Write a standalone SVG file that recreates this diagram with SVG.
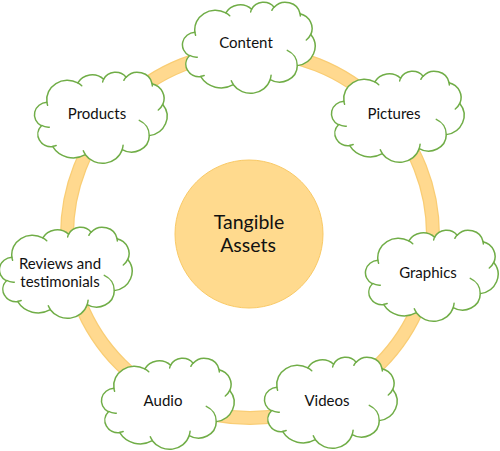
<svg xmlns="http://www.w3.org/2000/svg" xmlns:xlink="http://www.w3.org/1999/xlink" width="500" height="451" viewBox="0 0 500 451">
<style>
.cloud{fill:#fff;stroke:#70AD47;stroke-width:1.5;stroke-linejoin:round}
.detail{fill:none;stroke:#70AD47;stroke-width:1.5;stroke-linecap:round}
.lbl{font-family:Lato,"Open Sans","Liberation Sans",sans-serif;font-size:15px;fill:#111;text-anchor:middle}
.big{font-family:Lato,"Open Sans","Liberation Sans",sans-serif;font-size:19.5px;fill:#111;text-anchor:middle}
</style>
<defs>
<g id="cloud">
<path class="cloud" d="M11.92,30.27 A20.63,19.36 0 0 1 42.80,10.96 A16.30,15.31 0 0 1 68.62,7.23 A13.34,12.52 0 0 1 91.16,5.22 A14.84,13.89 0 0 1 117.09,11.75 A16.30,15.32 0 0 1 127.79,32.57 A20.70,19.42 0 0 1 114.29,63.62 A17.68,16.57 0 0 1 87.26,77.54 A20.63,19.41 0 0 1 50.36,82.71 A23.59,22.21 0 0 1 17.75,74.72 A13.32,12.47 0 0 1 6.47,53.82 A13.28,12.52 0 0 1 11.92,30.27 Z"/>
<path class="detail" d="M14.34,55.14 A13.28,12.52 0 0 1 6.60,53.46 M21.17,73.52 A13.32,12.47 0 0 1 17.78,74.32 M50.35,82.34 A20.63,19.41 0 0 1 48.31,78.68 M88.08,73.20 A20.63,19.41 0 0 1 87.27,77.22 M104.28,48.35 A17.68,16.57 0 0 1 114.22,63.38 M127.72,32.34 A16.30,15.32 0 0 1 123.30,37.98 M117.10,11.43 A14.84,13.89 0 0 1 117.33,14.09 M88.85,8.32 A14.84,13.89 0 0 1 91.12,4.93 M67.65,9.94 A13.34,12.52 0 0 1 68.75,7.02 M42.78,10.94 A20.63,19.36 0 0 1 46.75,13.78 M12.61,33.26 A20.63,19.36 0 0 1 11.92,30.27"/>
</g>
</defs>
<g id="connectors">
<circle cx="250" cy="235" r="183" fill="none" stroke="#F9CD74" stroke-width="14"/>
<circle cx="250" cy="235" r="183" fill="none" stroke="#FFD98F" stroke-width="11.5"/>
</g>
<g id="center">
<circle cx="249" cy="234" r="74" fill="#FFDA8E" stroke="#F9C965" stroke-width="1"/>
<text class="big" x="249" y="229">Tangible</text>
<text class="big" x="248" y="252">Assets</text>
</g>
<g id="content">
<use xlink:href="#cloud" transform="translate(183,2)"/>
<text class="lbl" x="246" y="48">Content</text>
</g>
<g id="pictures">
<use xlink:href="#cloud" transform="translate(332,71)"/>
<text class="lbl" x="394" y="119">Pictures</text>
</g>
<g id="products">
<use xlink:href="#cloud" transform="translate(35,72)"/>
<text class="lbl" x="97" y="119">Products</text>
</g>
<g id="reviews">
<use xlink:href="#cloud" transform="translate(0,227)"/>
<text class="lbl" x="60" y="269">Reviews and</text>
<text class="lbl" x="60" y="287">testimonials</text>
</g>
<g id="graphics">
<use xlink:href="#cloud" transform="translate(366,230)"/>
<text class="lbl" x="428" y="278">Graphics</text>
</g>
<g id="audio">
<use xlink:href="#cloud" transform="translate(102,358)"/>
<text class="lbl" x="163" y="406">Audio</text>
</g>
<g id="videos">
<use xlink:href="#cloud" transform="translate(265,357)"/>
<text class="lbl" x="327" y="406">Videos</text>
</g>
</svg>
